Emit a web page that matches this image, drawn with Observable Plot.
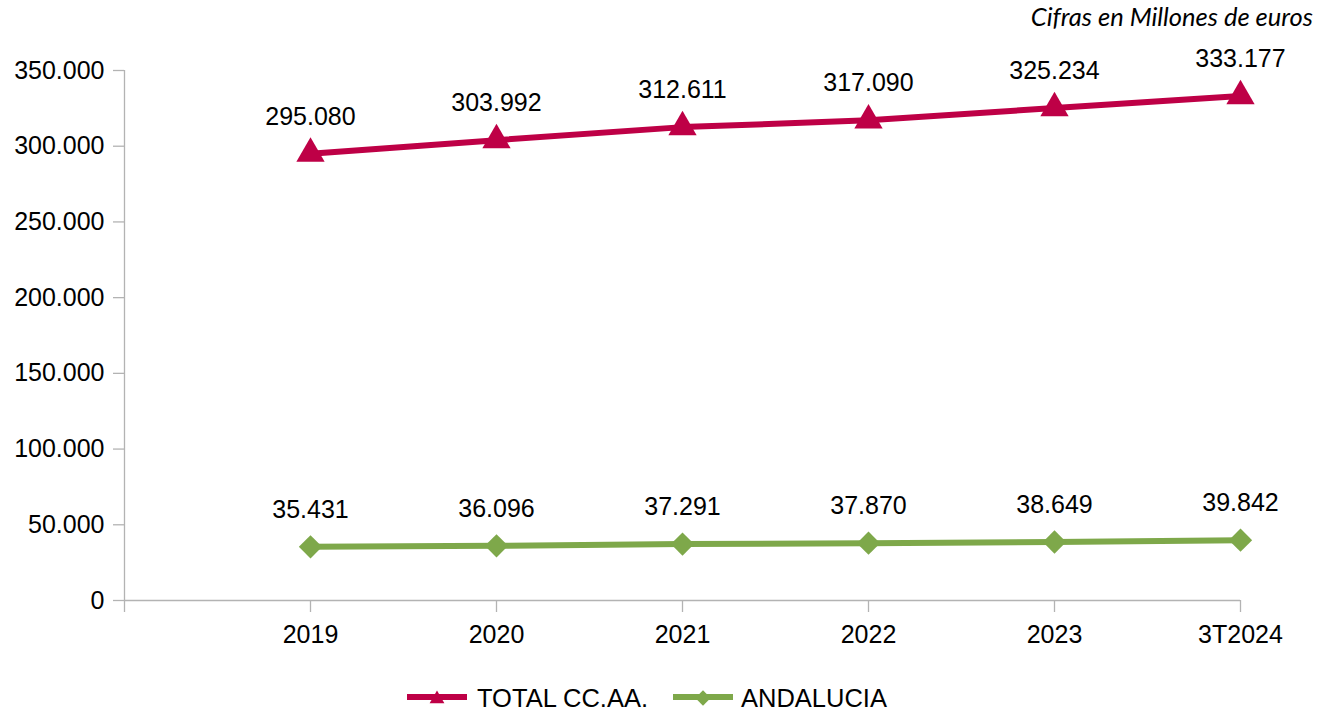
<!DOCTYPE html>
<html>
<head>
<meta charset="utf-8">
<script src="https://cdn.jsdelivr.net/npm/d3@7"></script>
<script src="https://cdn.jsdelivr.net/npm/@observablehq/plot@0.6"></script>
<style>
  html, body { margin: 0; padding: 0; background: #fff; }
  body { width: 1321px; height: 712px; position: relative; overflow: hidden; font-family: "Liberation Sans", Arial, sans-serif; }
  #caption { position: absolute; right: 8px; top: 4px; font-family: Lato, "Open Sans", sans-serif; font-style: italic; font-size: 25.5px; line-height: 1; color: #000; white-space: nowrap; }
  #chart { position: absolute; left: 0; top: 0; }
  #legend { position: absolute; left: 0; top: 672px; }
</style>
</head>
<body>
<div id="chart"></div>
<div id="caption">Cifras en Millones de euros</div>
<div id="legend"></div>
<script>
const categories = ["2019", "2020", "2021", "2022", "2023", "3T2024"];
const totalCCAA = [295080, 303992, 312611, 317090, 325234, 333177];
const andalucia = [35431, 36096, 37291, 37870, 38649, 39842];
const seriesNames = ["TOTAL CC.AA.", "ANDALUCIA"];
const seriesColors = ["#be0046", "#7ea84a"];
const seriesSymbols = ["triangle", "diamond2"];
const yTicks = [0, 50000, 100000, 150000, 200000, 250000, 300000, 350000];

const loc = d3.formatLocale({decimal: ",", thousands: ".", grouping: [3], currency: ["", " €"]});
const fmt = loc.format(",d");

const data = [];
[totalCCAA, andalucia].forEach((vals, s) => {
  vals.forEach((v, i) => data.push({series: seriesNames[s], cat: categories[i], value: v}));
});

const xDomain = [""].concat(categories);

const chart = Plot.plot({
  width: 1321,
  height: 672,
  marginLeft: 124,
  marginRight: 81,
  marginTop: 70,
  marginBottom: 72,
  style: {fontFamily: "'Liberation Sans', Arial, sans-serif", fontSize: "25px", color: "#000", background: "#fff"},
  x: {type: "point", domain: xDomain, padding: 0},
  y: {domain: [0, 350000]},
  color: {domain: seriesNames, range: seriesColors},
  symbol: {domain: seriesNames, range: seriesSymbols},
  marks: [
    Plot.ruleY([0], {stroke: "#b3b3b3", strokeWidth: 1.3}),
    Plot.ruleX([""], {stroke: "#b3b3b3", strokeWidth: 1.3}),
    Plot.axisY({ticks: yTicks, tickSize: 11, tickFormat: () => "", stroke: "#b3b3b3", strokeWidth: 1.3, label: null}),
    Plot.axisY({ticks: yTicks, tickSize: 0, tickPadding: 20, tickFormat: fmt, fill: "#000", fontSize: 25, label: null}),
    Plot.axisX({tickSize: 12, tickFormat: () => "", stroke: "#b3b3b3", strokeWidth: 1.3, label: null}),
    Plot.axisX({ticks: categories, tickSize: 0, tickPadding: 25, fill: "#000", fontSize: 25, label: null}),
    Plot.line(data, {x: "cat", y: "value", z: "series", stroke: "series", strokeWidth: 6}),
    Plot.dot(data, {x: "cat", y: "value", symbol: "series", fill: "series", stroke: null, r: 10.5}),
    Plot.text(data, {x: "cat", y: "value", text: d => fmt(d.value), dy: -37, fill: "#000", fontSize: 25})
  ]
});
document.getElementById("chart").appendChild(chart);

// legend
const lsvg = d3.select("#legend").append("svg").attr("width", 1321).attr("height", 40)
  .style("font-family", "'Liberation Sans', Arial, sans-serif");
const lineX = [407, 673];
const textX = [477, 741];
const symbols = [d3.symbolTriangle, d3.symbolDiamond2];
const symSizes = [95, 150];
seriesNames.forEach((name, i) => {
  const y = 25;
  lsvg.append("line").attr("x1", lineX[i]).attr("x2", lineX[i] + 60).attr("y1", y).attr("y2", y)
    .attr("stroke", seriesColors[i]).attr("stroke-width", 6);
  lsvg.append("path").attr("d", d3.symbol(symbols[i], symSizes[i])()).attr("transform", `translate(${lineX[i] + 30},${y + (i === 0 ? 2 : 1)})`)
    .attr("fill", seriesColors[i]);
  lsvg.append("text").attr("x", textX[i]).attr("y", 35).attr("font-size", 25.5).attr("fill", "#000").text(name);
});
</script>
</body>
</html>
